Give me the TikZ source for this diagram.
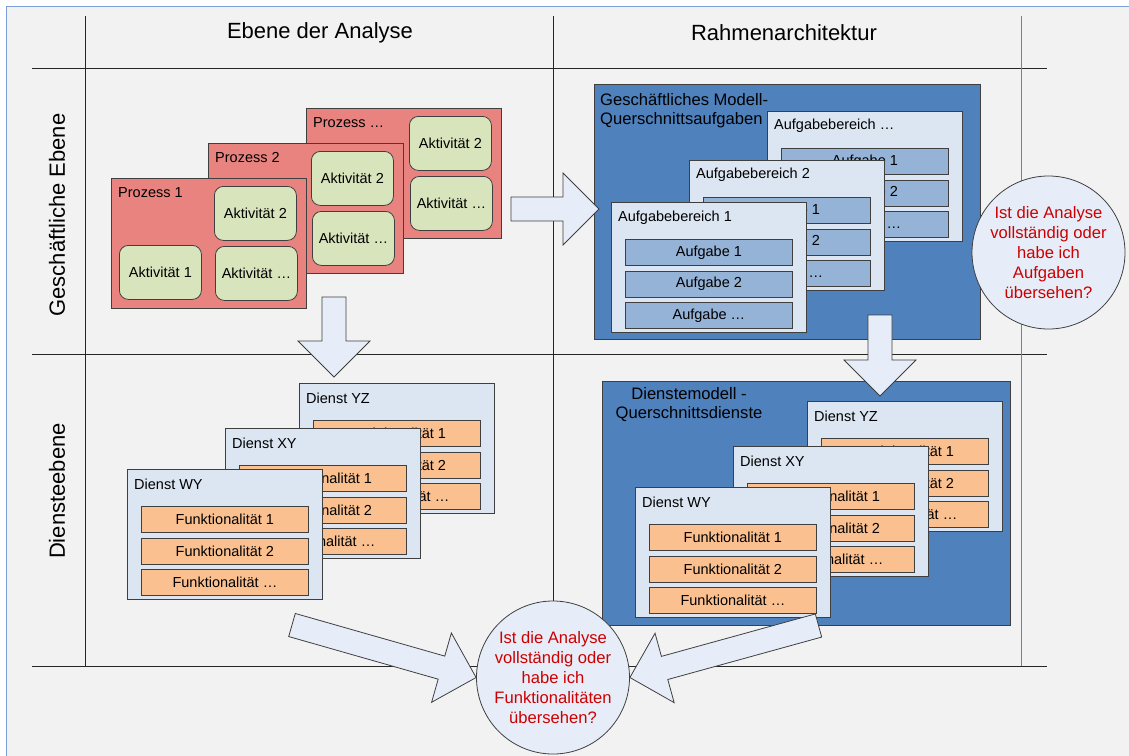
\documentclass[tikz,border=0pt]{standalone}
\usepackage{fontspec}
\setmainfont{Liberation Sans}
\usetikzlibrary{calc}

\definecolor{bggray}{HTML}{F2F2F2}
\definecolor{framecol}{HTML}{7BA2D8}
\definecolor{bordercol}{HTML}{3F3F3F}
\definecolor{procred}{HTML}{E8837F}
\definecolor{aktgreen}{HTML}{D8E4BC}
\definecolor{modelblue}{HTML}{4F81BD}
\definecolor{lightbox}{HTML}{DCE6F2}
\definecolor{taskblue}{HTML}{95B3D7}
\definecolor{funcorange}{HTML}{FAC090}
\definecolor{arrowfill}{HTML}{E6EDF8}
\definecolor{qred}{HTML}{CC0000}

\newcommand{\hdfont}{\fontsize{22}{26}\selectfont}
\newcommand{\mdfont}{\fontsize{16.6}{19}\selectfont}
\newcommand{\qfont}{\fontsize{16.6}{20}\selectfont}
\newcommand{\bxfont}{\fontsize{14.5}{17}\selectfont}

\tikzstyle{frame} = [draw=framecol, line width=1.5pt, fill=bggray]
\tikzstyle{grid} = [draw=black!85, line width=1pt]
\tikzstyle{proc} = [rectangle, draw=bordercol, line width=0.8pt, fill=procred, minimum width=195pt, minimum height=130pt, anchor=north west, inner sep=0]
\tikzstyle{area} = [rectangle, draw=bordercol, line width=0.8pt, fill=lightbox, minimum width=195pt, minimum height=130pt, anchor=north west, inner sep=0]
\tikzstyle{model} = [rectangle, draw=bordercol, line width=0.8pt, fill=modelblue, anchor=north west, inner sep=0]
\tikzstyle{akt} = [rectangle, draw=bordercol, line width=0.8pt, rounded corners=9pt, fill=aktgreen, minimum width=82pt, minimum height=54pt, anchor=north west, inner sep=0, font=\bxfont]
\tikzstyle{task} = [rectangle, draw=bordercol, line width=0.8pt, fill=taskblue, minimum width=167pt, minimum height=26pt, anchor=north west, inner sep=0, font=\bxfont]
\tikzstyle{func} = [task, fill=funcorange]
\tikzstyle{title} = [anchor=west, inner sep=0, font=\bxfont]
\tikzstyle{question} = [circle, draw=bordercol, line width=0.8pt, fill=arrowfill, minimum size=153pt, inner sep=0, text=qred, align=center, font=\qfont]
\tikzstyle{barrow} = [draw=bordercol, line width=0.8pt, fill=arrowfill, line join=miter]

% block arrow from tail #1 to tip #2
\newcommand{\blockarrow}[2]{%
  \coordinate (hb) at ($(#2)!36pt!(#1)$);
  \draw[barrow] ($(#1)!12pt!90:(#2)$) -- ($(hb)!12pt!90:(#2)$) -- ($(hb)!36pt!90:(#2)$) -- (#2)
    -- ($(hb)!36pt!-90:(#2)$) -- ($(hb)!12pt!-90:(#2)$) -- ($(#1)!12pt!-90:(#2)$) -- cycle;
}

\begin{document}
\begin{tikzpicture}[x=1pt, y=-1pt]
\useasboundingbox (0,0) rectangle (1129,755);
\fill[white] (0,0) rectangle (1129,755);
\draw[frame] (6.5,6.5) rectangle (1145,770);

% grid
\draw[grid] (32,68) -- (1047,68);
\draw[grid] (32,354) -- (1047,354);
\draw[grid] (32,666) -- (1047,666);
\draw[grid] (85,16) -- (85,666);
\draw[grid] (553,16) -- (553,666);
\draw[grid, draw=black!50] (1021,16) -- (1021,666);

\node[font=\hdfont] (colA) at (320,33) {Ebene der Analyse};
\node[font=\hdfont] (colR) at (784,33) {Rahmenarchitektur};
\node[font=\hdfont, rotate=90] (rowG) at (57,215) {Geschäftliche Ebene};
\node[font=\hdfont, rotate=90] (rowD) at (57,491) {Diensteebene};

% Prozesse
\node[proc] (P3) at (306,108) {};
\node[title] at ($(P3.north west)+(7,15)$) {Prozess …};
\node[akt] (P3a2) at ($(P3.north west)+(103,8)$) {Aktivität 2};
\node[akt] (P3ax) at ($(P3.north west)+(104,68)$) {Aktivität …};

\node[proc] (P2) at (208,143) {};
\node[title] at ($(P2.north west)+(7,15)$) {Prozess 2};
\node[akt] (P2a2) at ($(P2.north west)+(103,8)$) {Aktivität 2};
\node[akt] (P2ax) at ($(P2.north west)+(104,68)$) {Aktivität …};

\node[proc] (P1) at (111,178) {};
\node[title] at ($(P1.north west)+(7,15)$) {Prozess 1};
\node[akt] (P1a2) at ($(P1.north west)+(103,8)$) {Aktivität 2};
\node[akt] (P1a1) at ($(P1.north west)+(8,67)$) {Aktivität 1};
\node[akt] (P1ax) at ($(P1.north west)+(104,68)$) {Aktivität …};

% Geschaeftliches Modell
\node[model, minimum width=386pt, minimum height=255pt] (GM) at (594,84) {};
\node[anchor=west, align=left, inner sep=0, font=\mdfont] (GMt) at ($(GM.north west)+(6,26.5)$) {Geschäftliches Modell-\\Querschnittsaufgaben};

\node[area] (AB3) at (767,111) {};
\node[title] at ($(AB3.north west)+(7,15)$) {Aufgabebereich …};
\node[task] (AB3t1) at ($(AB3.north west)+(14,37)$) {Aufgabe 1};
\node[task] (AB3t2) at ($(AB3.north west)+(14,68.7)$) {Aufgabe 2};
\node[task] (AB3tx) at ($(AB3.north west)+(14,100)$) {Aufgabe …};

\node[area] (AB2) at (689,160) {};
\node[title] at ($(AB2.north west)+(7,15)$) {Aufgabebereich 2};
\node[task] (AB2t1) at ($(AB2.north west)+(14,37)$) {Aufgabe 1};
\node[task] (AB2t2) at ($(AB2.north west)+(14,68.7)$) {Aufgabe 2};
\node[task] (AB2tx) at ($(AB2.north west)+(14,100)$) {Aufgabe …};

\node[area] (AB1) at (611,202) {};
\node[title] at ($(AB1.north west)+(7,16)$) {Aufgabebereich 1};
\node[task] (AB1t1) at ($(AB1.north west)+(14,37)$) {Aufgabe 1};
\node[task] (AB1t2) at ($(AB1.north west)+(14,68.7)$) {Aufgabe 2};
\node[task] (AB1tx) at ($(AB1.north west)+(14,100)$) {Aufgabe …};

% Dienste (Analyse)
\node[area] (DY) at (299,383) {};
\node[title] at ($(DY.north west)+(7,15)$) {Dienst YZ};
\node[func] (DYf1) at ($(DY.north west)+(14,37)$) {Funktionalität 1};
\node[func] (DYf2) at ($(DY.north west)+(14,68.6)$) {Funktionalität 2};
\node[func] (DYfx) at ($(DY.north west)+(14,100)$) {Funktionalität …};

\node[area] (DX) at (225,428) {};
\node[title] at ($(DX.north west)+(7,15)$) {Dienst XY};
\node[func] (DXf1) at ($(DX.north west)+(14,37)$) {Funktionalität 1};
\node[func] (DXf2) at ($(DX.north west)+(14,68.6)$) {Funktionalität 2};
\node[func] (DXfx) at ($(DX.north west)+(14,100)$) {Funktionalität …};

\node[area] (DW) at (127,469) {};
\node[title] at ($(DW.north west)+(7,15)$) {Dienst WY};
\node[func] (DWf1) at ($(DW.north west)+(14,37)$) {Funktionalität 1};
\node[func] (DWf2) at ($(DW.north west)+(14,68.6)$) {Funktionalität 2};
\node[func] (DWfx) at ($(DW.north west)+(14,100)$) {Funktionalität …};

% Dienstemodell
\node[model, minimum width=408pt, minimum height=244pt] (DM) at (602,381) {};
\node[align=center, inner sep=0, font=\mdfont] (DMt) at (689,405) {Dienstemodell -\\Querschnittsdienste};

\node[area] (RY) at (807,401) {};
\node[title] at ($(RY.north west)+(7,15)$) {Dienst YZ};
\node[func] (RYf1) at ($(RY.north west)+(14,37)$) {Funktionalität 1};
\node[func] (RYf2) at ($(RY.north west)+(14,68.6)$) {Funktionalität 2};
\node[func] (RYfx) at ($(RY.north west)+(14,100)$) {Funktionalität …};

\node[area] (RX) at (733,446) {};
\node[title] at ($(RX.north west)+(7,15)$) {Dienst XY};
\node[func] (RXf1) at ($(RX.north west)+(14,37)$) {Funktionalität 1};
\node[func] (RXf2) at ($(RX.north west)+(14,68.6)$) {Funktionalität 2};
\node[func] (RXfx) at ($(RX.north west)+(14,100)$) {Funktionalität …};

\node[area] (RW) at (635,487) {};
\node[title] at ($(RW.north west)+(7,15)$) {Dienst WY};
\node[func] (RWf1) at ($(RW.north west)+(14,37)$) {Funktionalität 1};
\node[func] (RWf2) at ($(RW.north west)+(14,68.6)$) {Funktionalität 2};
\node[func] (RWfx) at ($(RW.north west)+(14,100)$) {Funktionalität …};

% Fragen
\node[question] (UQ) at (1048.5,252.5) {Ist die Analyse\\vollständig oder\\habe ich\\Aufgaben\\übersehen?};
\node[question] (LQ) at (553,677.5) {Ist die Analyse\\vollständig oder\\habe ich\\Funktionalitäten\\übersehen?};

% Pfeile
\coordinate (a1s) at (511,209);
\coordinate (a1e) at (599,209);
\coordinate (a2s) at (334,297);
\coordinate (a2e) at (334,377);
\coordinate (a3s) at (880,315);
\coordinate (a3e) at (880,396);
\coordinate (a4s) at (292,625);
\coordinate (a5s) at (818.5,625.5);

\blockarrow{a1s}{a1e}
\blockarrow{a2s}{a2e}
\blockarrow{a3s}{a3e}
\blockarrow{a4s}{LQ.west}
\blockarrow{a5s}{LQ.east}

\end{tikzpicture}
\end{document}
